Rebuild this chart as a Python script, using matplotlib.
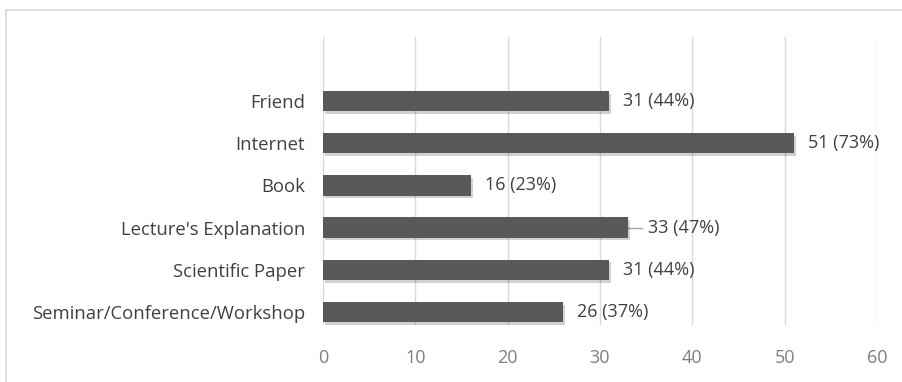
import matplotlib
matplotlib.use("Agg")
import matplotlib.pyplot as plt
import matplotlib.patheffects as pe
from matplotlib.patches import Rectangle

plt.rcParams['font.family'] = ['Open Sans', 'DejaVu Sans']

# sources, bottom to top
sources = ["Seminar/Conference/Workshop", "Scientific Paper", "Lecture's Explanation",
           "Book", "Internet", "Friend"]
counts = [26, 31, 33, 16, 51, 31]
percents = [37, 44, 47, 23, 73, 44]
xticks = [0, 10, 20, 30, 40, 50, 60]

fig = plt.figure(figsize=(9.02, 3.82), dpi=100)
fig.patches.append(Rectangle((6 / 902, -0.1), 1.0, 1 - 10 / 382 + 0.1,
                             transform=fig.transFigure, fill=False,
                             edgecolor="#d9d9d9", linewidth=1.2))

ax = fig.add_axes([323 / 902, 1 - 325 / 382, 554 / 902, 288 / 382])
ypos = list(range(len(sources)))
bars = ax.barh(ypos, counts, height=0.48, color="#595959", zorder=3)
for b in bars:
    b.set_path_effects([pe.SimplePatchShadow(offset=(1.5, -2), shadow_rgbFace="#000000", alpha=0.18),
                        pe.Normal()])

for y, c, p in zip(ypos, counts, percents):
    gap = 1.5
    if c == 33:
        # leader line to the label
        ax.plot([c, c + 1.6], [y, y], color="#a6a6a6", lw=1, zorder=2, clip_on=False)
        gap = 2.2
    ax.text(c + gap, y, f"{c} ({p}%)", va="center", ha="left", fontsize=13,
            color="#404040")

ax.set_xlim(0, 60)
ax.set_ylim(-0.31, 6.52)
ax.set_xticks(xticks)
ax.set_yticks(ypos)
ax.set_yticklabels(sources, fontsize=13.3, color="#404040")
ax.tick_params(axis="x", colors="#7f7f7f", labelsize=13, length=0, pad=17)
ax.tick_params(axis="y", length=0, pad=13)
ax.grid(axis="x", color="#d9d9d9", linewidth=1, zorder=0)
for s in ax.spines.values():
    s.set_visible(False)

fig.savefig("out.png", dpi=100)
